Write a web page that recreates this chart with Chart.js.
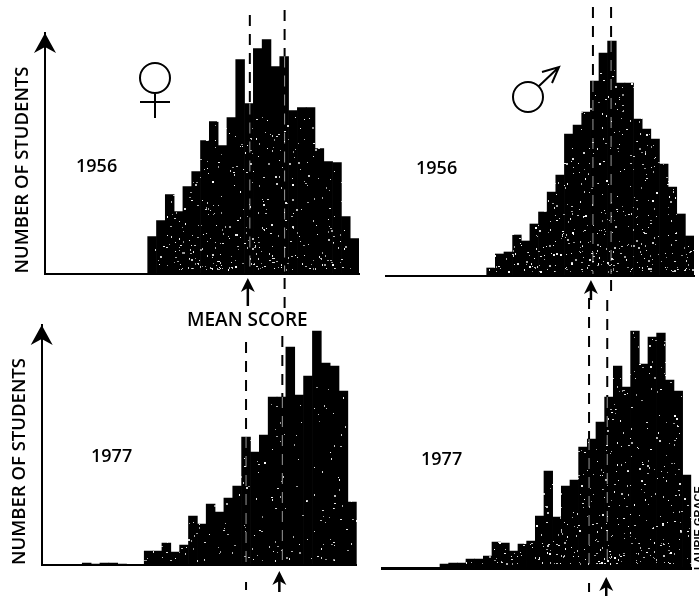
<!DOCTYPE html>
<html>
<head>
<meta charset="utf-8">
<title>Score distributions 1956 and 1977</title>
<script src="https://cdn.jsdelivr.net/npm/chart.js@4"></script>
<style>
  html, body { margin:0; padding:0; background:#fff; }
  #page { position:relative; width:699px; height:596px; overflow:hidden; font-family:"Open Sans",sans-serif; color:#000; }
  #page canvas { position:absolute; }
  .label { position:absolute; white-space:nowrap; font-weight:600; line-height:1; }
  .year { font-size:18px; }
  .credit { font-family:"Liberation Sans",sans-serif; font-weight:700; font-size:11px; transform-origin:0 0; transform:rotate(-90deg); }
</style>
</head>
<body>
<div id="page">
  <canvas id="c-f56"></canvas>
  <canvas id="c-m56"></canvas>
  <canvas id="c-f77"></canvas>
  <canvas id="c-m77"></canvas>
  <div class="label year" style="left:76px;top:156px">1956</div>
  <div class="label year" style="left:416px;top:158px">1956</div>
  <div class="label year" style="left:91px;top:446px">1977</div>
  <div class="label year" style="left:421px;top:449px">1977</div>
  <div class="label" style="left:187px;top:310px;font-size:19px">MEAN SCORE</div>
  <div class="label credit" style="left:693px;top:570px">LAURIE GRACE</div>
</div>
<script>
// histogram heights, one value per score bin
const female1956 = [37,53,79,62,87,102,133,152,128,156,214,170,225,234,207,217,163,166,166,125,112,111,57,35];
const male1956   = [8,22,24,41,35,52,64,84,101,142,151,164,195,223,235,193,193,157,147,137,112,89,62,40];
const female1977 = [0,0,0,0,0,2,1,2,2,1,0,0,14,14,22,13,20,49,41,61,53,67,79,128,113,130,168,168,218,170,189,234,202,199,174,63];
const male1977   = [4,5,5,9,9,12,26,25,17,24,27,52,97,51,82,88,121,129,146,171,202,181,237,204,231,235,188,177,93];

// mean scores in bin units, left line then right line
const meansF56 = [11.6, 15.55];
const meansM56 = [12.3, 14.4];
const meansF77 = [23.5, 27.6];
const meansM77 = [17.2, 19.3];

const yAxisTitle = 'NUMBER OF STUDENTS';

const panels = [
  {id:'c-f56', bins:female1956, means:meansF56, left:0, top:0, w:360, h:312, symbol:'female',
   axisLeft:45, barsLeft:147.7, right:359, plotTop:33, base:273.5, yAxis:true, titlePad:12, titleSize:18.5,
   lineTops:[15,10], stub:{i:1, from:278, to:309}, arrow:{i:0, dx:-2, tip:278, end:306},
   speckle:{n:750, depth:130, seed:11}},
  {id:'c-m56', bins:male1956, means:meansM56, left:360, top:0, w:339, h:312, symbol:'male',
   axisLeft:26, barsLeft:126.7, right:334, plotTop:36, base:276, yAxis:false,
   lineTops:[7,7], stub:{i:1, from:280, to:291}, arrow:{i:0, dx:-2, tip:280, end:300},
   speckle:{n:1100, depth:170, seed:37}},
  {id:'c-f77', bins:female1977, means:meansF77, left:0, top:296, w:360, h:300,
   axisLeft:41.7, barsLeft:38, right:356.7, plotTop:29, base:269, yAxis:true, titlePad:9, titleSize:18.5,
   lineTops:[46,40], stub:{i:0, from:286, to:294}, arrow:{i:1, dx:-3, tip:275, end:296},
   speckle:{n:450, depth:150, seed:53}},
  {id:'c-m77', bins:male1977, means:meansM77, left:360, top:296, w:339, h:300,
   axisLeft:22, barsLeft:80, right:331.3, plotTop:30, base:272, axisWidth:3, yAxis:false,
   lineTops:[2,4], stub:{i:0, from:287, to:296}, arrow:{i:1, dx:-1, tip:281, end:300},
   speckle:{n:1100, depth:240, seed:71}}
];

// black bars with white flecks that thin out going up from the base line
function speckleFill(p) {
  const tile = document.createElement('canvas');
  tile.width = p.w; tile.height = p.h;
  const g = tile.getContext('2d');
  g.fillStyle = '#000';
  g.fillRect(0, 0, p.w, p.h);
  g.fillStyle = '#fff';
  let s = p.speckle.seed;
  const next = () => { s = (s * 16807) % 2147483647; return s / 2147483647; };
  for (let i = 0; i < p.speckle.n; i++) {
    const x = Math.floor(next() * p.w);
    const up = next();
    const y = Math.floor(p.base - 4 - Math.pow(up, 1.5) * p.speckle.depth * 1.2);
    g.globalAlpha = 0.55 + next() * 0.45;
    g.fillRect(x, y, next() > 0.7 ? 2 : 1, next() > 0.7 ? 2 : 1);
  }
  return g.createPattern(tile, 'no-repeat');
}

function arrowHead(ctx, x, tip, half, len, notch) {
  ctx.beginPath();
  ctx.moveTo(x, tip);
  ctx.lineTo(x + half, tip + len);
  ctx.lineTo(x, tip + notch);
  ctx.lineTo(x - half, tip + len);
  ctx.closePath();
  ctx.fill();
}

function drawSymbol(ctx, kind) {
  ctx.lineWidth = 2;
  ctx.strokeStyle = '#000';
  ctx.beginPath();
  if (kind === 'female') {
    ctx.arc(155, 78, 15, 0, Math.PI * 2);
    ctx.moveTo(155, 93); ctx.lineTo(155, 118);
    ctx.moveTo(140, 102); ctx.lineTo(170, 102);
  } else {
    ctx.arc(168, 97, 15, 0, Math.PI * 2);
    ctx.moveTo(179, 86); ctx.lineTo(199, 67);
    ctx.moveTo(182, 72); ctx.lineTo(199, 67); ctx.lineTo(192, 83);
  }
  ctx.stroke();
}

// dashed mean lines, arrows under the axis and the arrow on top of the y axis
const marks = {
  id: 'marks',
  afterDatasetsDraw(chart, args, opts) {
    const p = opts.panel, ctx = chart.ctx;
    const xs = chart.scales.x, ys = chart.scales.y;
    ctx.save();
    ctx.lineWidth = 2;
    ctx.setLineDash([11, 8]);
    p.means.forEach((m, i) => {
      const x = xs.getPixelForValue(m);
      const barTop = ys.getPixelForValue(p.bins[Math.floor(m)] || 0);
      ctx.strokeStyle = '#000';
      ctx.beginPath(); ctx.moveTo(x, p.lineTops[i]); ctx.lineTo(x, barTop); ctx.stroke();
      ctx.strokeStyle = 'rgba(255,255,255,0.6)';
      ctx.lineWidth = 1;
      ctx.beginPath(); ctx.moveTo(x, barTop); ctx.lineTo(x, p.base - 2); ctx.stroke();
      ctx.lineWidth = 2;
    });
    ctx.strokeStyle = '#000';
    const sx = xs.getPixelForValue(p.means[p.stub.i]);
    ctx.beginPath(); ctx.moveTo(sx, p.stub.from); ctx.lineTo(sx, p.stub.to); ctx.stroke();
    ctx.setLineDash([]);
    ctx.fillStyle = '#000';
    const ax = xs.getPixelForValue(p.means[p.arrow.i]) + p.arrow.dx;
    ctx.lineWidth = 2.5;
    ctx.beginPath(); ctx.moveTo(ax, p.arrow.tip + 6); ctx.lineTo(ax, p.arrow.end); ctx.stroke();
    arrowHead(ctx, ax, p.arrow.tip, 7, 14, 10);
    if (p.yAxis) arrowHead(ctx, chart.chartArea.left, chart.chartArea.top, 11, 20, 14);
    if (p.symbol) drawSymbol(ctx, p.symbol);
    ctx.restore();
  }
};

panels.forEach(p => {
  const el = document.getElementById(p.id);
  el.width = p.w; el.height = p.h;
  el.style.left = p.left + 'px';
  el.style.top = p.top + 'px';
  const binW = (p.right - p.barsLeft) / p.bins.length;
  new Chart(el, {
    type: 'bar',
    data: {
      datasets: [{
        data: p.bins.map((v, i) => ({x: i + 0.5, y: v})),
        backgroundColor: speckleFill(p),
        borderWidth: 0,
        barPercentage: 1,
        categoryPercentage: 1
      }]
    },
    options: {
      responsive: false,
      animation: false,
      layout: {padding: {left: p.yAxis ? 0 : p.axisLeft, right: p.w - p.right, top: p.plotTop, bottom: p.h - p.base}},
      plugins: {legend: {display: false}, tooltip: {enabled: false}, marks: {panel: p}},
      scales: {
        x: {
          type: 'linear', offset: false, min: -(p.barsLeft - p.axisLeft) / binW, max: p.bins.length,
          ticks: {display: false}, grid: {display: false, drawTicks: false},
          border: {color: '#000', width: p.axisWidth || 2},
          afterFit(s) { s.height = 0; }
        },
        y: {
          display: p.yAxis, min: 0, max: p.base - p.plotTop,
          ticks: {display: false}, grid: {display: false, drawTicks: false},
          border: {color: '#000', width: 2},
          title: {display: p.yAxis, text: yAxisTitle, align: 'start', color: '#000', padding: {top: p.titlePad || 0, bottom: 0},
                  font: {family: '"Open Sans",sans-serif', size: p.titleSize, weight: '600'}},
          afterFit(s) { s.width = p.yAxis ? p.axisLeft : 0; }
        }
      }
    },
    plugins: [marks]
  });
});
</script>
</body>
</html>
